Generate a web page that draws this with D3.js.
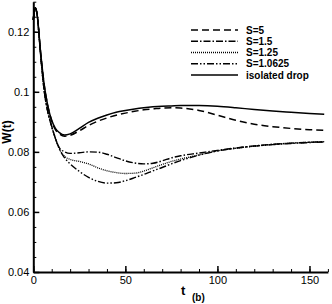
<!DOCTYPE html>
<html>
<head>
<meta charset="utf-8">
<script src="https://cdn.jsdelivr.net/npm/d3@7"></script>
<style>
  body { margin: 0; background: #fff; }
  svg { display: block; font-family: "Liberation Sans", Arial, sans-serif; }
  .axis text { font-size: 11px; fill: #000; }
  .axis path, .axis line { stroke: #000; }
</style>
</head>
<body>
<div id="chart"></div>
<script>
// sample times shared by all series
const times = [0, 1, 2, 4, 6, 8, 10, 12, 14, 17, 20, 25, 30, 35, 40, 45, 50, 55, 60, 65, 70, 75, 80, 90, 100, 110, 120, 130, 140, 150, 158];

const isolated = [0.124, 0.128, 0.126, 0.113, 0.102, 0.095, 0.0905, 0.0878, 0.0865, 0.0856, 0.086, 0.0878, 0.0898, 0.0912, 0.0923, 0.0932, 0.0938, 0.0943, 0.0947, 0.095, 0.0952, 0.0953, 0.0954, 0.0954, 0.0952, 0.0947, 0.0941, 0.0936, 0.0932, 0.0928, 0.0925];
const s5 = [0.124, 0.128, 0.126, 0.113, 0.102, 0.095, 0.0903, 0.0874, 0.0861, 0.0852, 0.0855, 0.087, 0.0888, 0.0902, 0.0913, 0.0922, 0.0929, 0.0935, 0.094, 0.0943, 0.0946, 0.0947, 0.0946, 0.0938, 0.0922, 0.0905, 0.0892, 0.0884, 0.0878, 0.0874, 0.0872];
const s15 = [0.124, 0.128, 0.126, 0.112, 0.1, 0.093, 0.0885, 0.0845, 0.0815, 0.08, 0.0795, 0.0797, 0.08, 0.0799, 0.0792, 0.0781, 0.077, 0.0763, 0.076, 0.0762, 0.077, 0.078, 0.0787, 0.0796, 0.0805, 0.0813, 0.082, 0.0825, 0.0829, 0.0832, 0.0834];
const s125 = [0.124, 0.128, 0.126, 0.112, 0.1, 0.093, 0.0885, 0.0845, 0.0812, 0.0785, 0.0775, 0.0768, 0.076, 0.0747, 0.0737, 0.0731, 0.0728, 0.0729, 0.0736, 0.0747, 0.0758, 0.0768, 0.0776, 0.079, 0.0803, 0.0812, 0.0819, 0.0825, 0.0829, 0.0832, 0.0834];
const s10625 = [0.124, 0.128, 0.126, 0.112, 0.1, 0.093, 0.0885, 0.0845, 0.0812, 0.078, 0.076, 0.0735, 0.0715, 0.0702, 0.0696, 0.0697, 0.0704, 0.0714, 0.0725, 0.0737, 0.0748, 0.076, 0.0771, 0.0789, 0.0803, 0.0812, 0.0819, 0.0824, 0.0828, 0.0831, 0.0833];

const labels = ['S=5', 'S=1.5', 'S=1.25', 'S=1.0625', 'isolated drop'];
const xTicks = [0, 50, 100, 150];
const yTicks = [0.04, 0.06, 0.08, 0.1, 0.12];

const width = 332;
const height = 304;

const series = [
  { name: labels[0], values: s5, dash: '7,4', w: 1.5 },
  { name: labels[1], values: s15, dash: '7,2,1.5,2', w: 1.4 },
  { name: labels[2], values: s125, dash: '1,1', w: 1.3 },
  { name: labels[3], values: s10625, dash: '7,2,1.5,2,1.5,2', w: 1.4 },
  { name: labels[4], values: isolated, dash: null, w: 1.5 },
];

const svg = d3.select('#chart').append('svg')
  .attr('width', width)
  .attr('height', height);

const x = d3.scaleLinear().domain([0, 160]).range([33.3, 327.9]);
const y = d3.scaleLinear().domain([0.04, 0.13]).range([272, 1.7]);

// minor ticks
svg.append('g')
  .attr('class', 'axis')
  .attr('transform', 'translate(0,272)')
  .call(d3.axisBottom(x).tickValues(d3.range(0, 161, 10)).tickFormat('').tickSize(-3).tickSizeOuter(0))
  .call(g => g.select('.domain').remove());
svg.append('g')
  .attr('class', 'axis')
  .attr('transform', 'translate(33.3,0)')
  .call(d3.axisLeft(y).tickValues(d3.range(0.04, 0.1301, 0.005)).tickFormat('').tickSize(-3).tickSizeOuter(0))
  .call(g => g.select('.domain').remove());

// major axes
svg.append('g')
  .attr('class', 'axis')
  .attr('transform', 'translate(0,272)')
  .call(d3.axisBottom(x).tickValues(xTicks).tickSize(-6).tickSizeOuter(0).tickPadding(4))
  .call(g => g.select('.domain').attr('stroke-width', 2))
  .call(g => g.selectAll('.tick line').attr('stroke-width', 1.5));

svg.append('g')
  .attr('class', 'axis')
  .attr('transform', 'translate(33.3,0)')
  .call(d3.axisLeft(y).tickValues(yTicks).tickFormat(d => +d.toFixed(2)).tickSize(-6).tickSizeOuter(0).tickPadding(4))
  .call(g => g.select('.domain').attr('stroke-width', 2))
  .call(g => g.selectAll('.tick line').attr('stroke-width', 1.5));

// curves
const line = d3.line()
  .x((d, i) => x(times[i]))
  .y(d => y(d))
  .curve(d3.curveMonotoneX);

svg.append('g').selectAll('path')
  .data(series)
  .join('path')
  .attr('d', d => line(d.values))
  .attr('fill', 'none')
  .attr('stroke', '#000')
  .attr('stroke-width', d => d.w)
  .attr('stroke-dasharray', d => d.dash);

// legend
const legendY = d3.scalePoint().domain(labels).range([30, 75]);
const legend = svg.append('g').selectAll('g')
  .data(series)
  .join('g')
  .attr('transform', d => `translate(0,${legendY(d.name)})`);

legend.append('line')
  .attr('x1', 191).attr('x2', 238)
  .attr('stroke', '#000')
  .attr('stroke-width', d => d.w)
  .attr('stroke-dasharray', d => d.dash);

legend.append('text')
  .attr('x', 246)
  .attr('dy', '0.36em')
  .attr('font-size', 10)
  .attr('font-weight', 'bold')
  .text(d => d.name);

// axis titles
svg.append('text')
  .attr('transform', 'translate(11,132) rotate(-90)')
  .attr('text-anchor', 'middle')
  .attr('font-size', 12)
  .attr('font-weight', 'bold')
  .text('W(t)');

svg.append('text')
  .attr('x', 181).attr('y', 295)
  .attr('font-size', 13)
  .attr('font-weight', 'bold')
  .text('t');

svg.append('text')
  .attr('x', 192).attr('y', 301)
  .attr('font-size', 10)
  .attr('font-weight', 'bold')
  .text('(b)');
</script>
</body>
</html>
